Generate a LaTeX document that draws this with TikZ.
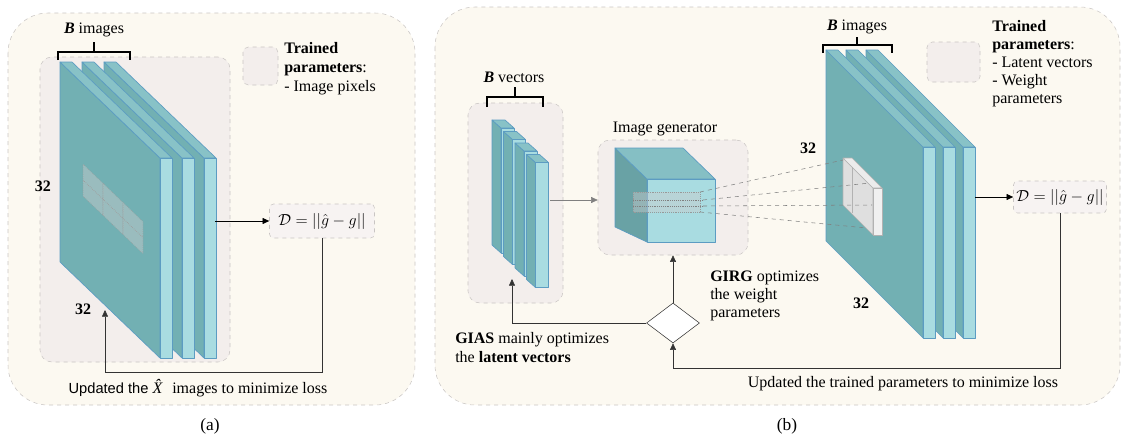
\documentclass[tikz,border=0pt]{standalone}
\usepackage{fontspec}
\setmainfont{Liberation Serif}
\newfontfamily\labelsans{Liberation Sans}
\usetikzlibrary{shapes.geometric,arrows.meta,positioning,calc}

\definecolor{panelbg}{HTML}{FCF9F1}
\definecolor{boxbg}{HTML}{F3EEEC}
\definecolor{boxline}{HTML}{C9C5C3}
\definecolor{sideface}{HTML}{72B0B3}
\definecolor{topface}{HTML}{88C2C7}
\definecolor{frontface}{HTML}{A9DCE1}
\definecolor{edgeblue}{HTML}{5C9CC2}
\definecolor{linegray}{HTML}{333333}

% one image slab: x0, y0, dx, dy, height, thickness
\newcommand{\imgslab}[6]{%
  \filldraw[slabedge, fill=sideface] (#1,#2) -- ++(#3,#4) -- ++(0,#5) -- ++(-#3,-#4) -- cycle;
  \filldraw[slabedge, fill=topface] (#1,#2) -- ++(#6,0) -- ++(#3,#4) -- ++(-#6,0) -- cycle;
  \filldraw[slabedge, fill=frontface] (#1+#3,#2+#4) rectangle ++(#6,#5);
}
% one latent vector bar: front x, front y
\newcommand{\vecbar}[2]{%
  \filldraw[slabedge, fill=sideface] (#1,#2) -- ++(-9,-8) -- ++(0,125) -- ++(9,8) -- cycle;
  \filldraw[slabedge, fill=topface] (#1,#2) -- ++(-9,-8) -- ++(13,0) -- ++(9,8) -- cycle;
  \filldraw[slabedge, fill=frontface] (#1,#2) rectangle ++(13,125);
}

\begin{document}
\begin{tikzpicture}[x=0.75pt, y=-0.75pt,
    font=\fontsize{12}{14.2}\selectfont,
    panel/.style={draw=boxline, dashed, thin, fill=panelbg, rounded corners=30pt},
    graybox/.style={draw=boxline, dashed, thin, fill=boxbg, rounded corners=9pt, inner sep=0pt},
    lossbox/.style={draw=boxline, dashed, thin, fill=boxbg!70!white, rounded corners=3pt, inner sep=1pt},
    slabedge/.style={draw=edgeblue, line width=0.5pt, line join=round},
    kernel/.style={draw=gray!80, densely dotted, fill=gray!40, fill opacity=0.45},
    ray/.style={draw=gray, dashed, thin},
    bracket/.style={draw=black, line width=1pt},
    fb/.style={draw=linegray, thin, -{Triangle[length=5pt, width=4.5pt]}},
    txt/.style={inner sep=0pt, align=left, anchor=north west}
  ]
  \useasboundingbox (0,0) rectangle (1122,440);

  % panels
  \filldraw[panel] (8,13) rectangle (415,405);
  \filldraw[panel] (435,7) rectangle (1120,405);

  % ---------- (a) ----------
  \node[graybox, minimum width=142.5pt, minimum height=228.75pt] (stacka) at (135,209.5) {};
  \node[graybox, rounded corners=4pt, minimum width=26.25pt, minimum height=28.5pt] (lega) at (260.5,66) {};
  \node[txt] (legatxt) at (284,42) {\textbf{Trained}\\\textbf{parameters}:\\- Image pixels};

  \foreach \x in {104,82,60} {\imgslab{\x}{62}{100}{96}{200}{12}}
  \foreach \u in {0.23,0.43,0.63}
    \foreach \v in {0.40,0.48}
      \filldraw[kernel] (60+100*\u,62+96*\u+200*\v) -- ++(20,19.2) -- ++(0,16) -- ++(-20,-19.2) -- cycle;

  \draw[bracket] (58,60) -- (58,52) -- (130,52) -- (130,60) (94,52) -- (94,42);
  \node[anchor=base] (bimga) at (94,33) {\textbf{\textit{B}} images};
  \node[anchor=center] (sza) at (43,186) {\textbf{32}};
  \node[anchor=center] (szb) at (83,309) {\textbf{32}};

  \node[lossbox, minimum width=78.75pt, minimum height=25.5pt] (lossa) at (322,221) {$\mathcal{D} = ||\hat{g} - g||$};
  \coordinate (outa) at (215,221);
  \coordinate (ina) at (105,310);
  \coordinate (fba) at (105,372);
  \draw[fb, draw=black] (outa) -- (lossa.west);
  \draw[fb] (lossa.south) |- (fba) -- (ina);
  \node[anchor=base] (upda) at (198,393) {{\labelsans\fontsize{11}{13}\selectfont Updated the} \textit{X^^^^0302} images to minimize loss};
  \node[anchor=center, font=\fontsize{13}{15}\selectfont] (capa) at (210,426) {(a)};

  % ---------- (b) ----------
  \node[graybox, minimum width=71.25pt, minimum height=150pt] (vecbox) at (515.5,203) {};
  \node[graybox, minimum width=112.5pt, minimum height=86.25pt] (genbox) at (673,197.5) {};
  \node[graybox, rounded corners=4pt, minimum width=39.75pt, minimum height=30pt] (legb) at (953.5,62) {};
  \node[txt, font=\fontsize{12}{13.5}\selectfont] (legbtxt) at (992,20) {\textbf{Trained}\\\textbf{parameters}:\\- Latent vectors\\- Weight\\parameters};

  % latent vectors
  \foreach \i in {0,...,3} {\vecbar{501+11.5*\i}{128+11.5*\i}}
  \draw[bracket] (487,107) -- (487,97) -- (543,97) -- (543,107) (515,97) -- (515,87);
  \node[anchor=base] (bvec) at (514,82) {\textbf{\textit{B}} vectors};

  % image generator
  \node[anchor=base] (gentxt) at (665,132) {Image generator};
  \filldraw[slabedge, fill=sideface!92!black] (615,148) -- (647,179) -- (647,242) -- (615,227) -- cycle;
  \filldraw[slabedge, fill=topface!85!sideface] (615,148) -- (683,148) -- (715,179) -- (647,179) -- cycle;
  \filldraw[slabedge, fill=frontface] (647,179) rectangle (715,242);
  \filldraw[kernel] (633,192) rectangle (700,212);
  \draw[gray, densely dotted] (633,200) -- (703,200) (633,206) -- (703,206);

  % generated images
  \foreach \x in {866,846,826} {\imgslab{\x}{50}{97}{97}{191}{12}}
  \begin{scope}[slabedge/.style={draw=gray!60, line width=0.4pt, line join=round}]
    \colorlet{sideface}{gray!25}
    \colorlet{topface}{gray!15}
    \colorlet{frontface}{gray!12}
    \imgslab{843}{158}{30}{30}{47}{9}
    \draw[gray!60, line width=0.4pt] (852,167) -- (852,213);
  \end{scope}
  \coordinate (k1) at (700,192);
  \coordinate (k2) at (703,200);
  \coordinate (k3) at (703,206);
  \coordinate (k4) at (700,212);
  \coordinate (p1) at (843,160);
  \coordinate (p2) at (870,183);
  \coordinate (p3) at (872,205);
  \coordinate (p4) at (867,228);
  \draw[ray] (k1) -- (p1);
  \draw[ray] (k2) -- (p2);
  \draw[ray] (k3) -- (p3);
  \draw[ray] (k4) -- (p4);

  \draw[bracket] (823,53) -- (823,45) -- (892,45) -- (892,53) (857,45) -- (857,37);
  \node[anchor=base] (bimgb) at (857,30) {\textbf{\textit{B}} images};
  \node[anchor=center] (szc) at (808,148) {\textbf{32}};
  \node[anchor=center] (szd) at (861,303) {\textbf{32}};

  \node[lossbox, minimum width=69.75pt, minimum height=24pt] (lossb) at (1060,197) {$\mathcal{D} = ||\hat{g} - g||$};
  \node[diamond, draw=linegray, fill=white, thin, inner sep=0pt, minimum width=39.75pt, minimum height=30pt] (sel) at (673,323) {};

  \coordinate (vecout) at (550,200);
  \coordinate (outb) at (975,197);
  \coordinate (inb) at (512,279);
  \coordinate (fbb) at (673,368);
  \draw[fb, draw=gray] (vecout) -- (vecout -| genbox.west);
  \draw[fb, draw=black] (outb) -- (lossb.west);
  \draw[fb] (lossb.south) |- (fbb) -- (sel.south);
  \draw[fb] (sel.north) -- (genbox.south);
  \draw[fb] (sel.west) -| (inb);

  \node[txt] (gias) at (455,332) {\textbf{GIAS} mainly optimizes\\the \textbf{latent vectors}};
  \node[txt, font=\fontsize{12}{13.5}\selectfont] (girg) at (710,271) {\textbf{GIRG} optimizes\\the weight\\parameters};
  \node[anchor=base] (updb) at (903,387) {Updated the trained parameters to minimize loss};
  \node[anchor=center, font=\fontsize{13}{15}\selectfont] (capb) at (787,426) {(b)};
\end{tikzpicture}
\end{document}
